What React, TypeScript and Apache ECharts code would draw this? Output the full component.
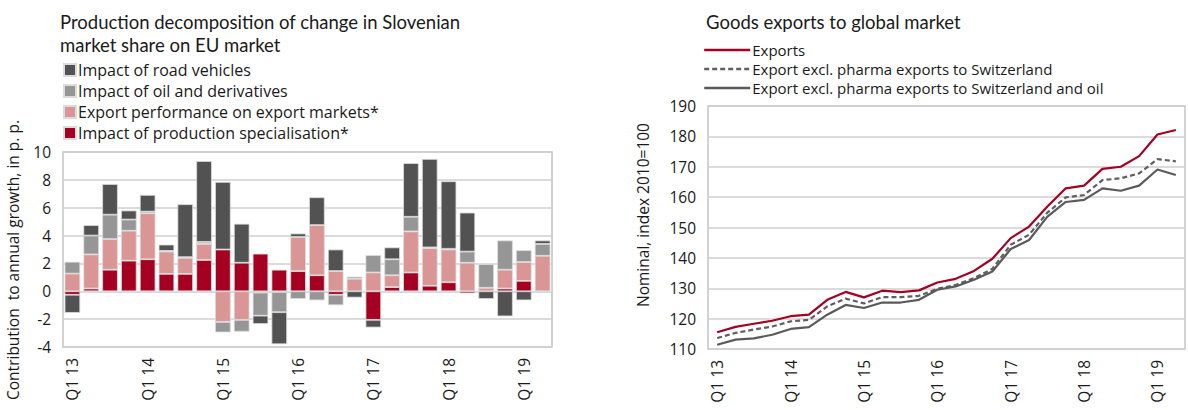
import React, { useEffect, useRef } from "react";
import * as echarts from "echarts";

const quarters = [
  "Q1 13", "Q2 13", "Q3 13", "Q4 13",
  "Q1 14", "Q2 14", "Q3 14", "Q4 14",
  "Q1 15", "Q2 15", "Q3 15", "Q4 15",
  "Q1 16", "Q2 16", "Q3 16", "Q4 16",
  "Q1 17", "Q2 17", "Q3 17", "Q4 17",
  "Q1 18", "Q2 18", "Q3 18", "Q4 18",
  "Q1 19", "Q2 19",
];

// Left chart: contributions (p.p.)
const specialisation = [-0.25, 0.2, 1.55, 2.2, 2.3, 1.25, 1.25, 2.25, 3.0, 2.05, 2.7, 1.55, 1.45, 1.15, -0.25, 0.0, -2.05, 0.3, 1.35, 0.4, 0.65, -0.15, 0.0, 0.2, 0.75, -0.05];
const exportPerformance = [1.27, 2.45, 2.2, 2.15, 3.3, 1.6, 1.15, 1.15, -2.2, -2.05, -0.1, -0.05, 2.45, 3.6, 1.45, 0.9, 1.35, 0.85, 2.95, 2.7, 2.35, 2.05, 0.25, 1.35, 1.35, 2.55];
const oil = [0.85, 1.35, 1.75, 0.8, 0.12, 0.05, 0.05, 0.15, -0.75, -0.85, -1.65, -1.45, -0.55, -0.65, -0.75, 0.15, 1.25, 1.15, 1.05, 0.05, 0.05, 0.8, 1.7, 2.1, 0.85, 0.85];
const roadVehicles = [-1.3, 0.75, 2.2, 0.65, 1.2, 0.45, 3.8, 5.8, 4.85, 2.8, -0.6, -2.3, 0.25, 2.0, 1.55, -0.45, -0.55, 0.85, 3.85, 6.35, 4.85, 2.8, -0.55, -1.8, -0.65, 0.25];

// Right chart: index 2010=100
const exportsTotal = [115.5, 117.3, 118.3, 119.3, 120.8, 121.3, 126.2, 128.8, 127.0, 129.2, 128.7, 129.3, 131.9, 133.1, 135.7, 139.7, 146.5, 150.3, 156.9, 162.9, 163.8, 169.3, 170.0, 173.5, 180.6, 182.1];
const exportsExPharma = [113.6, 115.3, 116.4, 117.4, 119.1, 119.6, 124.0, 126.6, 125.0, 127.1, 127.1, 127.5, 129.8, 131.1, 133.3, 136.4, 144.3, 147.6, 154.9, 159.9, 160.7, 165.6, 166.2, 167.8, 172.5, 171.8];
const exportsExPharmaOil = [111.4, 113.1, 113.5, 114.7, 116.6, 117.2, 121.3, 124.5, 123.5, 125.3, 125.3, 126.2, 129.5, 130.6, 132.8, 135.5, 142.9, 145.9, 153.6, 158.4, 159.1, 162.9, 162.1, 163.8, 169.1, 167.3];

const leftTicks = { min: -4, max: 10, interval: 2 };
const rightTicks = { min: 110, max: 190, interval: 10 };

const FONT = "Open Sans";
const TITLE_FONT = "Lato";
const TXT = "#1a1a1a";
const GRIDLINE = "#cfcfcf";
const BORDER = "#c4c4c4";

const C_RED = "#a50021";
const C_PINK = "#da9694";
const C_GRAY = "#969696";
const C_DARK = "#525252";

export default function App() {
  const ref = useRef<HTMLDivElement>(null);
  useEffect(() => {
    document.body.style.margin = "0";
    const chart = echarts.init(ref.current!, null, { renderer: "svg" });
    const barStyle = (color: string) => ({
      color,
      borderColor: "#dcdcdc",
      borderWidth: 0.8,
    });
    const catAxisLabel = {
      interval: 3,
      rotate: 90,
      fontFamily: FONT,
      fontSize: 15.5,
      color: TXT,
      margin: 11,
    };
    const valAxisLabel = { fontFamily: FONT, fontSize: 15.5, color: TXT, margin: 12 };
    chart.setOption({
      animation: false,
      textStyle: { fontFamily: FONT },
      title: [
        {
          text: "Production decomposition of change in Slovenian\nmarket share on EU market",
          left: 55,
          top: 5,
          textStyle: { fontFamily: TITLE_FONT, fontSize: 18.5, fontWeight: "normal", color: TXT, lineHeight: 23 },
        },
        {
          text: "Goods exports to global market",
          left: 701,
          top: 5,
          textStyle: { fontFamily: TITLE_FONT, fontSize: 18.5, fontWeight: "normal", color: TXT, lineHeight: 23 },
        },
      ],
      legend: [
        {
          orient: "vertical",
          left: 58,
          top: 57,
          itemGap: 5,
          itemWidth: 12,
          itemHeight: 12,
          icon: "rect",
          data: [
            "Impact of road vehicles",
            "Impact of oil and derivatives",
            "Export performance on export markets*",
            "Impact of production specialisation*",
          ],
          textStyle: { fontFamily: FONT, fontSize: 16, lineHeight: 16, color: TXT, padding: [0, 0, 0, -3] },
        },
        {
          orient: "vertical",
          left: 698,
          top: 37,
          itemGap: 3,
          itemWidth: 46,
          itemHeight: 16,
          itemStyle: { opacity: 0 },
          lineStyle: { width: 2.4 },
          data: [
            "Exports",
            "Export excl. pharma exports to Switzerland",
            "Export excl. pharma exports to Switzerland and oil",
          ],
          textStyle: { fontFamily: FONT, fontSize: 15, lineHeight: 16, color: TXT, padding: [0, 0, 0, -3] },
        },
      ],
      grid: [
        { left: 63, top: 152, width: 489, height: 195, show: true, borderColor: BORDER, borderWidth: 1.5, backgroundColor: "transparent" },
        { left: 708, top: 106, width: 477, height: 243, show: true, borderColor: BORDER, borderWidth: 1.5, backgroundColor: "transparent" },
      ],
      xAxis: [
        {
          type: "category",
          gridIndex: 0,
          data: quarters,
          axisLine: { show: false },
          axisTick: { show: false },
          axisLabel: catAxisLabel,
        },
        {
          type: "category",
          gridIndex: 1,
          data: quarters,
          boundaryGap: true,
          axisLine: { show: false },
          axisTick: { show: false },
          axisLabel: catAxisLabel,
        },
      ],
      yAxis: [
        {
          type: "value",
          gridIndex: 0,
          ...leftTicks,
          axisLine: { show: false },
          axisTick: { show: false },
          axisLabel: valAxisLabel,
          splitLine: { lineStyle: { color: GRIDLINE, width: 1.5 } },
        },
        {
          type: "value",
          gridIndex: 1,
          ...rightTicks,
          axisLine: { show: false },
          axisTick: { show: false },
          axisLabel: valAxisLabel,
          splitLine: { lineStyle: { color: GRIDLINE, width: 1.5 } },
        },
      ],
      graphic: [
        {
          type: "text",
          x: 13,
          y: 260,
          rotation: Math.PI / 2,
          style: {
            text: "Contribution  to annual growth, in p. p.",
            fontFamily: FONT,
            fontSize: 15.5,
            fill: TXT,
            align: "center",
            verticalAlign: "middle",
          },
        },
        {
          type: "text",
          x: 643,
          y: 215,
          rotation: Math.PI / 2,
          style: {
            text: "Nominal, index 2010=100",
            fontFamily: FONT,
            fontSize: 15.5,
            fill: TXT,
            align: "center",
            verticalAlign: "middle",
          },
        },
      ],
      series: [
        {
          name: "Impact of production specialisation*",
          type: "bar",
          stack: "a",
          xAxisIndex: 0,
          yAxisIndex: 0,
          barCategoryGap: "17%",
          data: specialisation,
          itemStyle: barStyle(C_RED),
        },
        {
          name: "Export performance on export markets*",
          type: "bar",
          stack: "a",
          xAxisIndex: 0,
          yAxisIndex: 0,
          data: exportPerformance,
          itemStyle: barStyle(C_PINK),
        },
        {
          name: "Impact of oil and derivatives",
          type: "bar",
          stack: "a",
          xAxisIndex: 0,
          yAxisIndex: 0,
          data: oil,
          itemStyle: barStyle(C_GRAY),
        },
        {
          name: "Impact of road vehicles",
          type: "bar",
          stack: "a",
          xAxisIndex: 0,
          yAxisIndex: 0,
          data: roadVehicles,
          itemStyle: barStyle(C_DARK),
        },
        {
          name: "Exports",
          type: "line",
          xAxisIndex: 1,
          yAxisIndex: 1,
          data: exportsTotal,
          symbol: "none",
          lineStyle: { color: C_RED, width: 2.2 },
          itemStyle: { color: C_RED },
        },
        {
          name: "Export excl. pharma exports to Switzerland",
          type: "line",
          xAxisIndex: 1,
          yAxisIndex: 1,
          data: exportsExPharma,
          symbol: "none",
          lineStyle: { color: "#5f5f5f", width: 2.2, type: [5, 3] },
          itemStyle: { color: "#5f5f5f" },
        },
        {
          name: "Export excl. pharma exports to Switzerland and oil",
          type: "line",
          xAxisIndex: 1,
          yAxisIndex: 1,
          data: exportsExPharmaOil,
          symbol: "none",
          lineStyle: { color: "#5a5a5a", width: 2.2 },
          itemStyle: { color: "#5a5a5a" },
        },
      ],
    });
    return () => chart.dispose();
  }, []);
  return <div ref={ref} style={{ width: 1188, height: 410 }} />;
}
